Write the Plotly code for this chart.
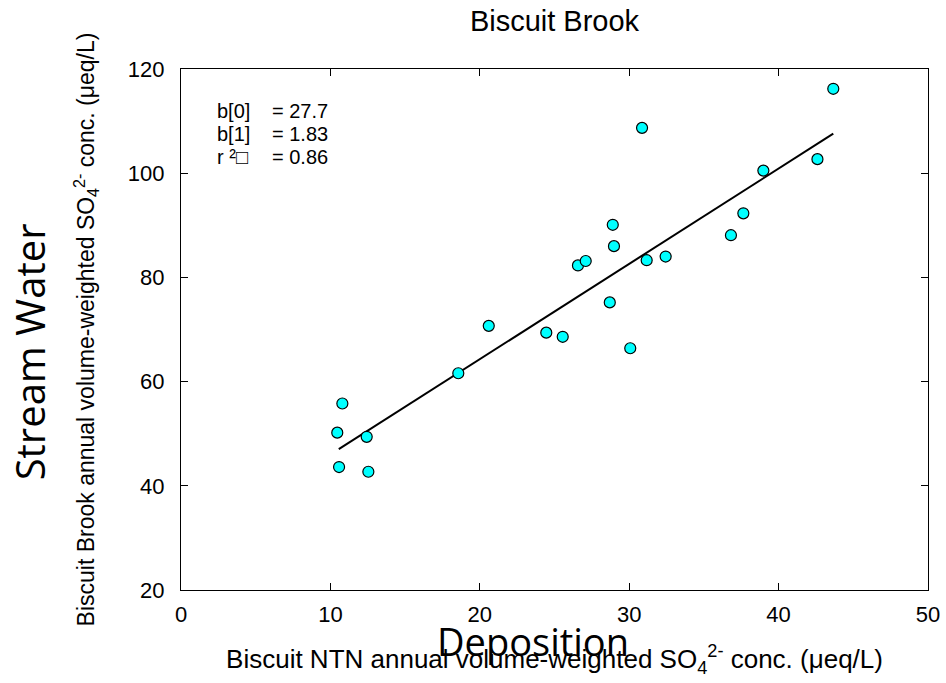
import plotly.graph_objects as go

# Data
deposition_so4 = [10.46, 10.58, 10.80, 12.43, 12.54, 18.56, 20.60, 24.45, 25.55, 26.57, 27.09, 28.70,
                  28.90, 28.98, 30.07, 30.86, 31.17, 32.44, 36.81, 37.64, 38.98, 42.60, 43.66]
stream_so4 = [50.2, 43.6, 55.8, 49.4, 42.7, 61.6, 70.7, 69.4, 68.6, 82.3, 83.15, 75.2,
              90.1, 86.0, 66.4, 108.7, 83.3, 84.0, 88.1, 92.3, 100.5, 102.7, 116.2]
b0 = 27.7
b1 = 1.83
r2 = 0.86
stat_labels = ["b[0]", "b[1]", "r \u00b2\u25a1"]
stat_values = [b0, b1, r2]
x_ticks = [0, 10, 20, 30, 40, 50]
y_ticks = [20, 40, 60, 80, 100, 120]

fit_x = [min(deposition_so4) + 0.1, max(deposition_so4)]
fit_y = [b0 + b1 * v for v in fit_x]

font_main = "Liberation Sans, Arial, sans-serif"
font_big = "Open Sans, Noto Sans, sans-serif"

fig = go.Figure()
fig.add_trace(go.Scatter(x=fit_x, y=fit_y, mode="lines",
                         line=dict(color="black", width=2), showlegend=False))
fig.add_trace(go.Scatter(x=deposition_so4, y=stream_so4, mode="markers",
                         marker=dict(color="#00FFFF", size=11, line=dict(color="black", width=1.2)),
                         showlegend=False))

axis_common = dict(showline=True, linecolor="black", linewidth=1.3, mirror="ticks",
                   ticks="inside", ticklen=7, tickcolor="black", tickwidth=1.3,
                   showgrid=False, zeroline=False, automargin=False,
                   tickfont=dict(family=font_main, size=22, color="black"))

annotations = [
    dict(text="Stream Water", xref="paper", yref="paper", x=-0.2035, y=0.458,
         xanchor="center", yanchor="middle", textangle=-90, showarrow=False,
         font=dict(family=font_big, size=40, color="black")),
    dict(text="Deposition", xref="paper", yref="paper", x=0.471, y=-0.098,
         xanchor="center", yanchor="middle", showarrow=False,
         font=dict(family=font_big, size=38, color="black")),
]
row_y = [0.919, 0.875, 0.831]
for lab, val, yy in zip(stat_labels, stat_values, row_y):
    annotations.append(dict(text=lab, xref="paper", yref="paper", x=0.0455, y=yy,
                            xanchor="left", yanchor="middle", showarrow=False,
                            font=dict(family=font_main, size=20, color="black")))
    annotations.append(dict(text=f"= {val}", xref="paper", yref="paper", x=0.119, y=yy,
                            xanchor="left", yanchor="middle", showarrow=False,
                            font=dict(family=font_main, size=20, color="black")))

fig.update_layout(
    width=946, height=683, autosize=False,
    margin=dict(l=181, r=18, t=69, b=93),
    paper_bgcolor="white", plot_bgcolor="white",
    title=dict(text="Biscuit Brook", xref="paper", x=0.5, xanchor="center",
               yref="container", y=0.97, yanchor="middle",
               font=dict(family=font_main, size=29, color="black")),
    xaxis=dict(range=[0, 50], tickvals=x_ticks, ticklabelstandoff=4,
               title=dict(text="Biscuit NTN annual volume-weighted SO<sub>4</sub><sup>2-</sup> conc. (\u03bceq/L)",
                          font=dict(family=font_main, size=26, color="black"), standoff=24),
               **axis_common),
    yaxis=dict(range=[20, 120], tickvals=y_ticks, ticklabelstandoff=11,
               title=dict(text="Biscuit Brook annual volume-weighted SO<sub>4</sub><sup>2-</sup> conc. (\u03bceq/L)",
                          font=dict(family=font_main, size=23, color="black"), standoff=26),
               **axis_common),
    annotations=annotations,
)

fig.write_html("out.html")
